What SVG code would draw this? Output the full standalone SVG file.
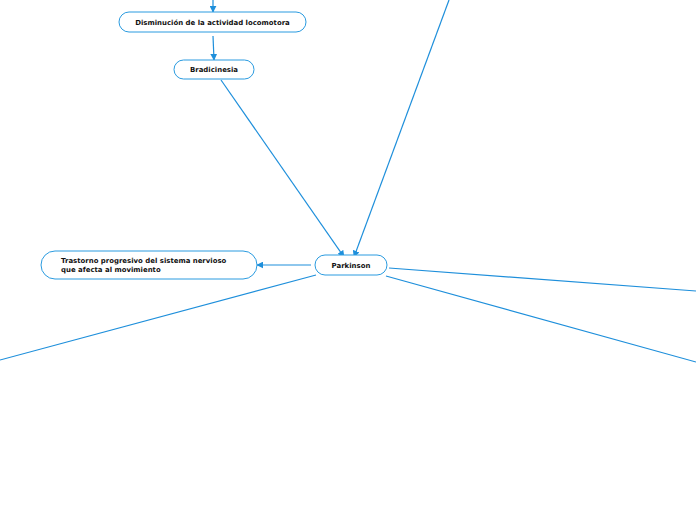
<svg xmlns="http://www.w3.org/2000/svg" width="696" height="520" viewBox="0 0 696 520">
<style>
.n{fill:#fff;stroke:#2a9be0;stroke-width:1}
.t{font-family:"DejaVu Sans",Verdana,sans-serif;font-weight:bold;font-size:6.95px;fill:#111}
.c{fill:none;stroke:#1e8fdb;stroke-width:1.2}
</style>
<defs>
<marker id="a" viewBox="0 0 10 10" refX="9" refY="5" markerWidth="7" markerHeight="7" markerUnits="userSpaceOnUse" orient="auto">
<path d="M0,0 L10,5 L0,10 Z" fill="#1e8fdb"/>
</marker>
</defs>
<g id="connectors">
<line class="c" x1="213" y1="0" x2="213" y2="12" marker-end="url(#a)"/>
<line class="c" x1="213" y1="36" x2="214" y2="60" marker-end="url(#a)"/>
<line class="c" x1="221" y1="80" x2="344" y2="257" marker-end="url(#a)"/>
<line class="c" x1="449" y1="0" x2="354" y2="257" marker-end="url(#a)"/>
<line class="c" x1="311" y1="265" x2="257" y2="265" marker-end="url(#a)"/>
<line class="c" x1="316" y1="275" x2="0" y2="360"/>
<line class="c" x1="389" y1="268" x2="696" y2="291"/>
<line class="c" x1="386" y1="276" x2="696" y2="362"/>
</g>
<g id="n1">
<rect class="n" x="119" y="12" width="187" height="20" rx="10"/>
<text class="t" x="212.5" y="24.5" text-anchor="middle">Disminución de la actividad locomotora</text>
</g>
<g id="n2">
<rect class="n" x="174" y="60" width="80" height="19" rx="9.5"/>
<text class="t" x="214" y="72" text-anchor="middle">Bradicinesia</text>
</g>
<g id="n3">
<rect class="n" x="315" y="255" width="72" height="20" rx="10"/>
<text class="t" x="351" y="268" text-anchor="middle">Parkinson</text>
</g>
<g id="n4">
<rect class="n" x="41" y="251" width="216" height="28" rx="14"/>
<text class="t" x="61" y="262.5">Trastorno progresivo del sistema nervioso</text>
<text class="t" x="61" y="272">que afecta al movimiento</text>
</g>
</svg>
